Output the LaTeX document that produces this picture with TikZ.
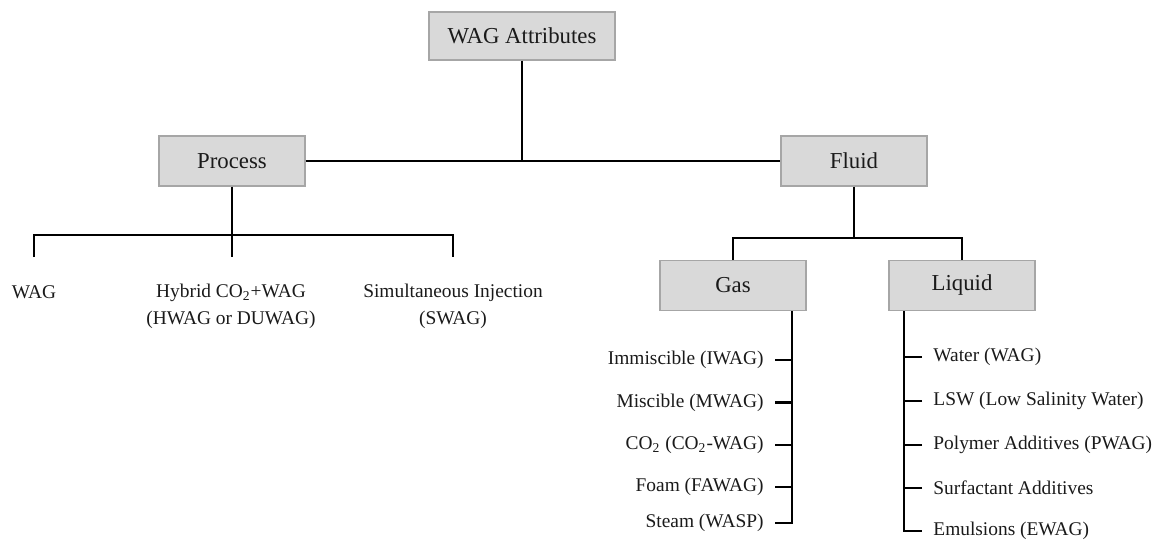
\documentclass[tikz,border=0pt]{standalone}
\usepackage{fontspec}
\setmainfont{Liberation Serif}
\definecolor{boxfill}{HTML}{D9D9D9}
\definecolor{boxline}{HTML}{A6A6A6}
\definecolor{txt}{HTML}{1A1A1A}
\tikzset{
  box/.style={draw=boxline, line width=0.6pt, fill=boxfill, minimum width=73pt, minimum height=25pt, inner sep=0pt, text=txt, font=\fontsize{11.4}{13.5}\selectfont},
  item/.style={inner sep=0pt, text=txt, font=\fontsize{9.7}{13.65}\selectfont},
  gitem/.style={item, anchor=east, inner xsep=5.5pt},
  litem/.style={item, anchor=west, inner xsep=5.5pt},
  conn/.style={draw=black, line width=1.1pt, line join=miter}
}
\begin{document}
\begin{tikzpicture}[x=0.5pt,y=-0.5pt]
\useasboundingbox (0,0) rectangle (1157,540);
% boxes
\node[box, minimum width=93pt, minimum height=24pt] (wag) at (522,36) {WAG Attributes};
\node[box] (proc) at (232,161) {Process};
\node[box] (fluid) at (854,161) {Fluid};
\node[box] (gas) at (733,285.5) {Gas};
\node[box] (liq) at (962,285.5) {Liquid};
% top connectors
\coordinate (tj) at (522,161);
\draw[conn] (wag.south) -- (tj);
\draw[conn] (proc.east) -- (fluid.west);
% process children
\node[item] (pw) at (34,292) {WAG};
\node[item, align=center] (ph) at (231,306) {Hybrid CO\textsubscript{2}+WAG\\(HWAG or DUWAG)};
\node[item, align=center] (ps) at (453,306) {Simultaneous Injection\\(SWAG)};
\coordinate (pj) at (232,235);
\coordinate (pwt) at (34,257);
\coordinate (pht) at (232,257);
\coordinate (pst) at (453,257);
\draw[conn] (proc.south) -- (pht);
\draw[conn] (pwt) -- (pwt |- pj) -- (pst |- pj) -- (pst);
% fluid children
\coordinate (fj) at (854,238);
\draw[conn] (fluid.south) -- (fj);
\draw[conn] (gas.north) |- (fj);
\draw[conn] (liq.north) |- (fj);
% gas items
\coordinate (gdn) at (792,523);
\node[gitem] (g1) at (775,360) {Immiscible (IWAG)};
\node[gitem] (g2) at (775,402.5) {Miscible (MWAG)};
\node[gitem] (g3) at (775,445) {CO\textsubscript{2} (CO\textsubscript{2}-WAG)};
\node[gitem] (g4) at (775,487) {Foam (FAWAG)};
\node[gitem] (g5) at (775,523) {Steam (WASP)};
\draw[conn] (gas.south -| gdn) -- (gdn) -- (g5.east);
\foreach \n in {g1,g2,g3,g4} \draw[conn] (\n.east) -- (\n.east -| gdn);
% liquid items
\coordinate (ldn) at (904,531);
\node[litem] (l1) at (922,357) {Water (WAG)};
\node[litem] (l2) at (922,401) {LSW (Low Salinity Water)};
\node[litem] (l3) at (922,445) {Polymer Additives (PWAG)};
\node[litem] (l4) at (922,488) {Surfactant Additives};
\node[litem] (l5) at (922,531) {Emulsions (EWAG)};
\draw[conn] (liq.south -| ldn) -- (ldn) -- (l5.west);
\foreach \n in {l1,l2,l3,l4} \draw[conn] (\n.west) -- (\n.west -| ldn);
\end{tikzpicture}
\end{document}
